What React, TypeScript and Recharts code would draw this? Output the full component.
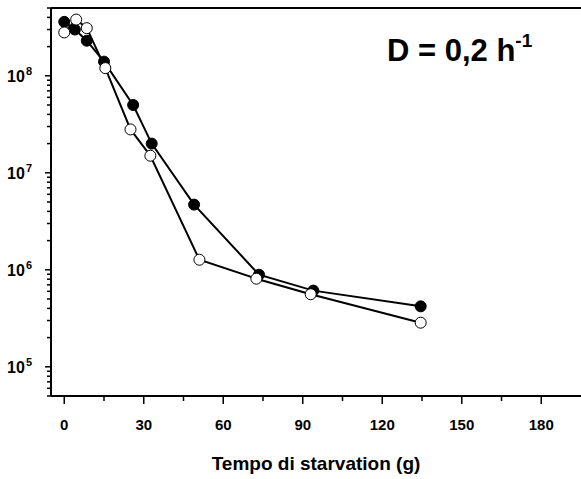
import React from "react"
import { LineChart, Line, XAxis, YAxis, ReferenceLine } from "recharts"

// filled circles
const filledTime = [0, 4, 8.5, 15, 26, 33, 49, 73.5, 94, 134.5]
const filledCount = [3.6e8, 3.0e8, 2.3e8, 1.4e8, 5.0e7, 2.0e7, 4.7e6, 8.9e5, 6.1e5, 4.2e5]

// open circles
const openTime = [0, 4.5, 8.5, 15.5, 25, 32.5, 51, 72.5, 93, 134.5]
const openCount = [2.8e8, 3.8e8, 3.1e8, 1.2e8, 2.8e7, 1.5e7, 1.27e6, 8.1e5, 5.6e5, 2.85e5]

const xTicks = [0, 15, 30, 45, 60, 75, 90, 105, 120, 135, 150, 165, 180]
const xLabelTicks = [0, 30, 60, 90, 120, 150, 180]
const decades = [4, 5, 6, 7, 8]
const yLabelTicks = [1e5, 1e6, 1e7, 1e8]

const yTicks = decades
  .flatMap((d) => [1, 2, 3, 4, 5, 6, 7, 8, 9].map((m) => m * Math.pow(10, d)))
  .filter((v) => v >= 5e4 && v <= 5e8)

const filledData = filledTime.map((t, i) => ({ t, n: filledCount[i] }))
const openData = openTime.map((t, i) => ({ t, n: openCount[i] }))

const font = "'Liberation Sans', Arial, sans-serif"

function XTick(props: any) {
  const { x, y, payload } = props
  const major = xLabelTicks.includes(payload.value)
  return (
    <g>
      <line x1={x} x2={x} y1={y} y2={y + (major ? 8 : 5)} stroke="#000" strokeWidth={1.5} />
      {major && (
        <text x={x} y={y + 34} textAnchor="middle" fontFamily={font} fontWeight="bold" fontSize={15} fill="#000">
          {payload.value}
        </text>
      )}
    </g>
  )
}

function YTick(props: any) {
  const { x, y, payload } = props
  const v = payload.value
  const major = yLabelTicks.some((m) => Math.abs(m - v) / m < 1e-6)
  const exp = Math.round(Math.log10(v))
  return (
    <g>
      <line x1={x - (major ? 6 : 4)} x2={x} y1={y} y2={y} stroke="#000" strokeWidth={1.5} />
      {major && (
        <text x={x - 19} y={y + 6} textAnchor="end" fontFamily={font} fontWeight="bold" fontSize={16} fill="#000">
          10
          <tspan dx={1} dy={-7} fontSize={11}>
            {exp}
          </tspan>
        </text>
      )}
    </g>
  )
}

export default function App() {
  return (
    <div style={{ position: "absolute", left: 0, top: 0, width: 581, height: 479, background: "#fff" }}>
      <LineChart width={581} height={479} margin={{ top: 8, right: 0, bottom: 0, left: 0 }}>
        <XAxis
          dataKey="t"
          type="number"
          domain={[-5, 195]}
          allowDataOverflow
          ticks={xTicks}
          interval={0}
          tick={<XTick />}
          tickSize={0}
          tickMargin={0}
          tickLine={false}
          height={83}
          axisLine={{ stroke: "#000", strokeWidth: 2 }}
          label={{
            value: "Tempo di starvation (g)",
            position: "insideBottom",
            offset: 9,
            style: { fontFamily: font, fontWeight: "bold", fontSize: 19, fill: "#000" },
          }}
        />
        <YAxis
          dataKey="n"
          type="number"
          scale="log"
          domain={[5e4, 5e8]}
          allowDataOverflow
          ticks={yTicks}
          interval={0}
          tick={<YTick />}
          tickSize={0}
          tickMargin={0}
          tickLine={false}
          width={51}
          axisLine={{ stroke: "#000", strokeWidth: 2 }}
        />
        <ReferenceLine y={5e8} stroke="#000" strokeWidth={2} />
        <Line
          data={filledData}
          dataKey="n"
          stroke="#000"
          strokeWidth={2}
          dot={{ r: 5.5, fill: "#000", stroke: "#000", strokeWidth: 1 }}
          activeDot={false}
          isAnimationActive={false}
        />
        <Line
          data={openData}
          dataKey="n"
          stroke="#000"
          strokeWidth={2}
          dot={{ r: 5.5, fill: "#fff", stroke: "#000", strokeWidth: 1 }}
          activeDot={false}
          isAnimationActive={false}
        />
      </LineChart>
      <div
        style={{
          position: "absolute",
          left: 387,
          top: 24,
          fontFamily: font,
          fontWeight: "bold",
          fontSize: 31,
          lineHeight: "40px",
          color: "#000",
          whiteSpace: "nowrap",
        }}
      >
        D = 0,2 h<sup style={{ fontSize: 19, position: "relative", top: -3 }}>-1</sup>
      </div>
    </div>
  )
}
